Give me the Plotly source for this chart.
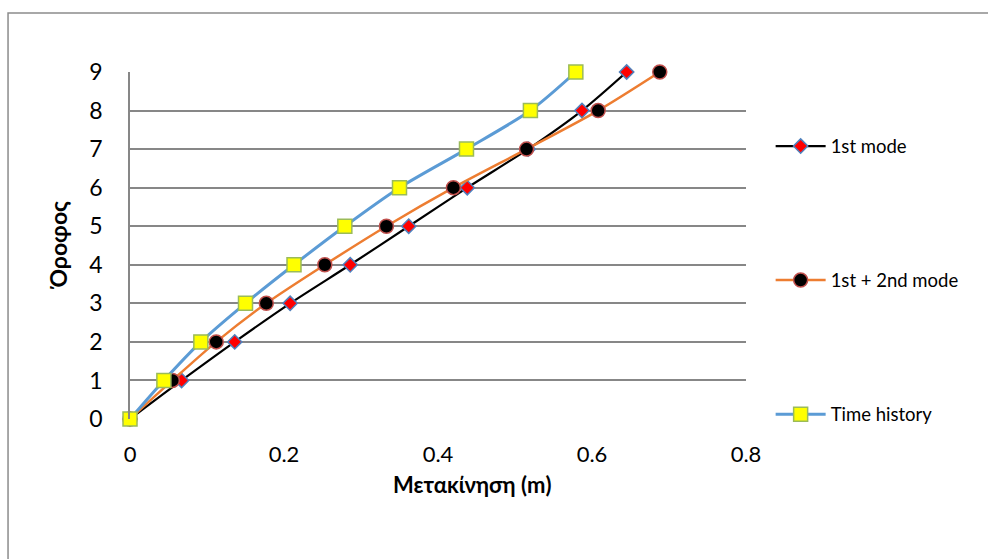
import plotly.graph_objects as go

# Floor levels and lateral displacement per method (m)
floors = [0, 1, 2, 3, 4, 5, 6, 7, 8, 9]
mode1 = [0, 0.067, 0.136, 0.208, 0.286, 0.362, 0.438, 0.517, 0.587, 0.645]
mode12 = [0, 0.055, 0.112, 0.177, 0.253, 0.333, 0.420, 0.515, 0.608, 0.688]
time_history = [0, 0.044, 0.092, 0.150, 0.213, 0.279, 0.350, 0.437, 0.520, 0.579]

x_ticks = [0, 0.2, 0.4, 0.6, 0.8]
x_tick_text = ["0", "0.2", "0.4", "0.6", "0.8"]
y_ticks = list(range(0, 10))

FONT = "Lato, Carlito, Calibri, sans-serif"

fig = go.Figure()

fig.add_trace(go.Scatter(
    x=mode1, y=floors, name="1st mode", mode="lines+markers",
    legendgroup="a", cliponaxis=False,
    line=dict(color="#000000", width=2.2, shape="spline", smoothing=0.8),
    marker=dict(symbol="diamond", size=11, color="#ff0000",
                line=dict(color="#4f81bd", width=1.5)),
))
fig.add_trace(go.Scatter(
    x=mode12, y=floors, name="1st + 2nd mode", mode="lines+markers",
    legendgroup="b", cliponaxis=False,
    line=dict(color="#ed7d31", width=2.5, shape="spline", smoothing=0.8),
    marker=dict(symbol="circle", size=14, color="#000000",
                line=dict(color="#c0504d", width=1.5)),
))
fig.add_trace(go.Scatter(
    x=time_history, y=floors, name="Time history", mode="lines+markers",
    legendgroup="c", cliponaxis=False,
    line=dict(color="#5b9bd5", width=3, shape="spline", smoothing=0.8),
    marker=dict(symbol="square", size=14, color="#ffff00",
                line=dict(color="#9bbb59", width=1.5)),
))

# Outer chart-area frame
fig.add_shape(type="rect", xref="paper", yref="paper",
              x0=-0.198, x1=1.40, y0=-0.42, y1=1.170,
              line=dict(color="#8c8c8c", width=1.5), layer="below")

# Axis titles
fig.add_annotation(text="<b>Μετακίνηση (m)</b>", xref="paper", yref="paper",
                   x=0.555, y=-0.188, xanchor="center", yanchor="middle",
                   showarrow=False, font=dict(size=22, family=FONT, color="#000000"))
fig.add_annotation(text="<b>Όροφος</b>", xref="paper", yref="paper",
                   x=-0.1185, y=0.5, xanchor="center", yanchor="middle",
                   textangle=-90, showarrow=False,
                   font=dict(size=23, family=FONT, color="#000000"))

fig.update_layout(
    width=988, height=559,
    margin=dict(l=130, r=242, t=72, b=140),
    plot_bgcolor="white", paper_bgcolor="white",
    font=dict(family=FONT, color="#000000"),
    showlegend=True,
    legend=dict(x=1.04, y=0.84, xanchor="left", yanchor="top",
                font=dict(size=18.5, family=FONT),
                tracegroupgap=107, itemwidth=50,
                bgcolor="rgba(0,0,0,0)"),
)

fig.update_xaxes(
    range=[0, 0.8], tickvals=x_ticks, ticktext=x_tick_text,
    showgrid=False, zeroline=False, showline=False, ticks="",
    tickfont=dict(size=22, family=FONT), ticklabelstandoff=20,
)
fig.update_yaxes(
    range=[0, 9], tickvals=y_ticks,
    showgrid=True, gridcolor="#878787", gridwidth=1.5,
    zeroline=False, showline=True, linecolor="#878787", linewidth=1.5,
    ticks="", tickfont=dict(size=23, family=FONT), ticklabelstandoff=21,
)

fig.write_html("out.html")
